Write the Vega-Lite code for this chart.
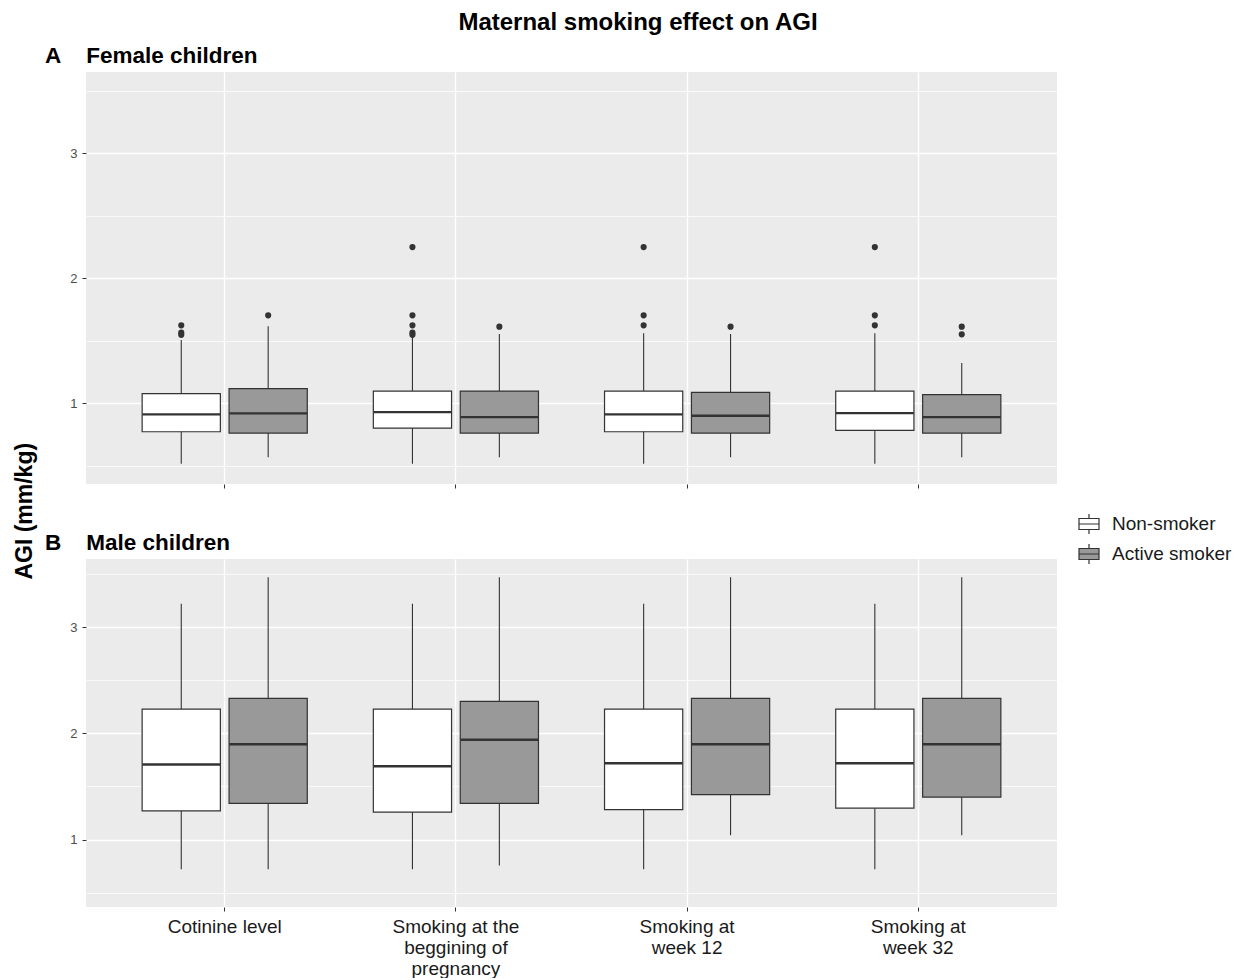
{
  "$schema": "https://vega.github.io/schema/vega-lite/v6.json",
  "background": "white",
  "padding": {"left": 14, "top": 10, "right": 0, "bottom": 0},
  "config": {
    "font": "Liberation Sans",
    "view": {"fill": "#EBEBEB", "stroke": null},
    "axis": {"domain": false, "tickColor": "#333333", "tickSize": 4, "tickWidth": 1, "gridColor": "#FFFFFF", "labelColor": "#4D4D4D", "labelFont": "Liberation Sans"},
    "title": {"font": "Liberation Sans", "color": "#000000"},
    "concat": {"spacing": 42}
  },
  "datasets": {
    "boxes": [
      {"sex": "Female", "exposure": "Cotinine level", "group": "Non-smoker", "lower": 0.517, "q1": 0.773, "median": 0.912, "q3": 1.077, "upper": 1.506},
      {"sex": "Female", "exposure": "Cotinine level", "group": "Active smoker", "lower": 0.568, "q1": 0.762, "median": 0.92, "q3": 1.117, "upper": 1.616},
      {"sex": "Female", "exposure": "Smoking at the beggining of pregnancy", "group": "Non-smoker", "lower": 0.517, "q1": 0.802, "median": 0.93, "q3": 1.098, "upper": 1.533},
      {"sex": "Female", "exposure": "Smoking at the beggining of pregnancy", "group": "Active smoker", "lower": 0.568, "q1": 0.762, "median": 0.89, "q3": 1.098, "upper": 1.554},
      {"sex": "Female", "exposure": "Smoking at week 12", "group": "Non-smoker", "lower": 0.517, "q1": 0.773, "median": 0.912, "q3": 1.098, "upper": 1.56},
      {"sex": "Female", "exposure": "Smoking at week 12", "group": "Active smoker", "lower": 0.568, "q1": 0.762, "median": 0.901, "q3": 1.088, "upper": 1.554},
      {"sex": "Female", "exposure": "Smoking at week 32", "group": "Non-smoker", "lower": 0.517, "q1": 0.784, "median": 0.922, "q3": 1.098, "upper": 1.56},
      {"sex": "Female", "exposure": "Smoking at week 32", "group": "Active smoker", "lower": 0.568, "q1": 0.762, "median": 0.89, "q3": 1.069, "upper": 1.322},
      {"sex": "Male", "exposure": "Cotinine level", "group": "Non-smoker", "lower": 0.72, "q1": 1.27, "median": 1.706, "q3": 2.228, "upper": 3.218},
      {"sex": "Male", "exposure": "Cotinine level", "group": "Active smoker", "lower": 0.72, "q1": 1.34, "median": 1.897, "q3": 2.329, "upper": 3.468},
      {"sex": "Male", "exposure": "Smoking at the beggining of pregnancy", "group": "Non-smoker", "lower": 0.72, "q1": 1.258, "median": 1.69, "q3": 2.228, "upper": 3.218},
      {"sex": "Male", "exposure": "Smoking at the beggining of pregnancy", "group": "Active smoker", "lower": 0.757, "q1": 1.34, "median": 1.94, "q3": 2.3, "upper": 3.468},
      {"sex": "Male", "exposure": "Smoking at week 12", "group": "Non-smoker", "lower": 0.72, "q1": 1.283, "median": 1.718, "q3": 2.228, "upper": 3.218},
      {"sex": "Male", "exposure": "Smoking at week 12", "group": "Active smoker", "lower": 1.04, "q1": 1.424, "median": 1.897, "q3": 2.329, "upper": 3.468},
      {"sex": "Male", "exposure": "Smoking at week 32", "group": "Non-smoker", "lower": 0.72, "q1": 1.296, "median": 1.718, "q3": 2.228, "upper": 3.218},
      {"sex": "Male", "exposure": "Smoking at week 32", "group": "Active smoker", "lower": 1.04, "q1": 1.4, "median": 1.897, "q3": 2.329, "upper": 3.468}
    ],
    "outliers": [
      {"sex": "Female", "exposure": "Cotinine level", "group": "Non-smoker", "value": 1.624},
      {"sex": "Female", "exposure": "Cotinine level", "group": "Non-smoker", "value": 1.565},
      {"sex": "Female", "exposure": "Cotinine level", "group": "Non-smoker", "value": 1.548},
      {"sex": "Female", "exposure": "Cotinine level", "group": "Active smoker", "value": 1.704},
      {"sex": "Female", "exposure": "Smoking at the beggining of pregnancy", "group": "Non-smoker", "value": 2.25},
      {"sex": "Female", "exposure": "Smoking at the beggining of pregnancy", "group": "Non-smoker", "value": 1.704},
      {"sex": "Female", "exposure": "Smoking at the beggining of pregnancy", "group": "Non-smoker", "value": 1.624},
      {"sex": "Female", "exposure": "Smoking at the beggining of pregnancy", "group": "Non-smoker", "value": 1.565},
      {"sex": "Female", "exposure": "Smoking at the beggining of pregnancy", "group": "Non-smoker", "value": 1.548},
      {"sex": "Female", "exposure": "Smoking at the beggining of pregnancy", "group": "Active smoker", "value": 1.613},
      {"sex": "Female", "exposure": "Smoking at week 12", "group": "Non-smoker", "value": 2.25},
      {"sex": "Female", "exposure": "Smoking at week 12", "group": "Non-smoker", "value": 1.704},
      {"sex": "Female", "exposure": "Smoking at week 12", "group": "Non-smoker", "value": 1.624},
      {"sex": "Female", "exposure": "Smoking at week 12", "group": "Active smoker", "value": 1.613},
      {"sex": "Female", "exposure": "Smoking at week 32", "group": "Non-smoker", "value": 2.25},
      {"sex": "Female", "exposure": "Smoking at week 32", "group": "Non-smoker", "value": 1.704},
      {"sex": "Female", "exposure": "Smoking at week 32", "group": "Non-smoker", "value": 1.624},
      {"sex": "Female", "exposure": "Smoking at week 32", "group": "Active smoker", "value": 1.613},
      {"sex": "Female", "exposure": "Smoking at week 32", "group": "Active smoker", "value": 1.552}
    ]
  },
  "title": {"text": "Maternal smoking effect on AGI", "fontSize": 24, "fontWeight": "bold", "anchor": "middle", "offset": 10, "dx": 15},
  "vconcat": [
    {
      "title": {"text": "AGI (mm/kg)", "orient": "left", "fontSize": 23, "fontWeight": "bold", "anchor": "middle", "offset": 8},
      "spacing": 42,
      "vconcat": [
        {
          "width": 971,
          "height": 412,
          "title": {"text": "A\u00a0\u00a0\u00a0\u00a0Female children", "fontSize": 22.5, "fontWeight": "bold", "anchor": "start", "frame": "group", "dx": -41, "offset": 5},
          "transform": [{"filter": "datum.sex === 'Female'"}],
          "data": {"name": "boxes"},
          "encoding": {
            "x": {"field": "exposure", "type": "nominal", "sort": ["Cotinine level", "Smoking at the beggining of pregnancy", "Smoking at week 12", "Smoking at week 32"], "scale": {"paddingInner": 0, "paddingOuter": 0.1},
                  "axis": {"title": null, "labels": false, "grid": true, "gridWidth": 1.4, "tickSize": 4}},
            "xOffset": {"field": "group", "type": "nominal", "sort": ["Non-smoker", "Active smoker"], "scale": {"paddingInner": 0.1, "paddingOuter": 0.38}}
          },
          "layer": [
            {
              "mark": {"type": "rule", "color": "#333333", "strokeWidth": 1.1},
              "encoding": {
                "y": {"field": "lower", "type": "quantitative", "scale": {"domain": [0.355, 3.65], "nice": false, "zero": false},
                      "axis": {"title": null, "values": [0.5, 1, 1.5, 2, 2.5, 3, 3.5], "labelExpr": "datum.value % 1 === 0 ? format(datum.value, 'd') : ''",
                               "gridWidth": {"condition": {"test": "datum.value % 1 === 0", "value": 1.4}, "value": 0.7},
                               "tickOpacity": {"condition": {"test": "datum.value % 1 === 0", "value": 1}, "value": 0},
                               "labelFontSize": 13, "labelPadding": 5}},
                "y2": {"field": "upper"}
              }
            },
            {
              "mark": {"type": "bar", "stroke": "#333333", "strokeWidth": 1.2},
              "encoding": {
                "y": {"field": "q1", "type": "quantitative"},
                "y2": {"field": "q3"},
                "fill": {"field": "group", "type": "nominal", "scale": {"domain": ["Non-smoker", "Active smoker"], "range": ["#FFFFFF", "#999999"]}}
              }
            },
            {
              "mark": {"type": "tick", "color": "#333333", "thickness": 2.4, "size": 78, "opacity": 1},
              "encoding": {"y": {"field": "median", "type": "quantitative"}}
            },
            {
              "data": {"name": "outliers"},
              "transform": [{"filter": "datum.sex === 'Female'"}],
              "mark": {"type": "point", "filled": true, "color": "#333333", "size": 38, "opacity": 1},
              "encoding": {"y": {"field": "value", "type": "quantitative"}}
            }
          ]
        },
        {
          "width": 971,
          "height": 348,
          "title": {"text": "B\u00a0\u00a0\u00a0\u00a0Male children", "fontSize": 22.5, "fontWeight": "bold", "anchor": "start", "frame": "group", "dx": -41, "offset": 5},
          "transform": [{"filter": "datum.sex === 'Male'"}],
          "data": {"name": "boxes"},
          "encoding": {
            "x": {"field": "exposure", "type": "nominal", "sort": ["Cotinine level", "Smoking at the beggining of pregnancy", "Smoking at week 12", "Smoking at week 32"], "scale": {"paddingInner": 0, "paddingOuter": 0.1},
                  "axis": {"title": null, "labelAngle": 0, "grid": true, "gridWidth": 1.4, "tickSize": 4, "labelFontSize": 19, "labelColor": "#1A1A1A", "labelPadding": 6, "labelLineHeight": 21,
                           "labelExpr": "datum.value === 'Smoking at the beggining of pregnancy' ? ['Smoking at the', 'beggining of', 'pregnancy'] : datum.value === 'Smoking at week 12' ? ['Smoking at', 'week 12'] : datum.value === 'Smoking at week 32' ? ['Smoking at', 'week 32'] : datum.value"}},
            "xOffset": {"field": "group", "type": "nominal", "sort": ["Non-smoker", "Active smoker"], "scale": {"paddingInner": 0.1, "paddingOuter": 0.38}}
          },
          "layer": [
            {
              "mark": {"type": "rule", "color": "#333333", "strokeWidth": 1.1},
              "encoding": {
                "y": {"field": "lower", "type": "quantitative", "scale": {"domain": [0.366, 3.64], "nice": false, "zero": false},
                      "axis": {"title": null, "values": [0.5, 1, 1.5, 2, 2.5, 3, 3.5], "labelExpr": "datum.value % 1 === 0 ? format(datum.value, 'd') : ''",
                               "gridWidth": {"condition": {"test": "datum.value % 1 === 0", "value": 1.4}, "value": 0.7},
                               "tickOpacity": {"condition": {"test": "datum.value % 1 === 0", "value": 1}, "value": 0},
                               "labelFontSize": 13, "labelPadding": 5}},
                "y2": {"field": "upper"}
              }
            },
            {
              "mark": {"type": "bar", "stroke": "#333333", "strokeWidth": 1.2},
              "encoding": {
                "y": {"field": "q1", "type": "quantitative"},
                "y2": {"field": "q3"},
                "fill": {"field": "group", "type": "nominal", "scale": {"domain": ["Non-smoker", "Active smoker"], "range": ["#FFFFFF", "#999999"]},
                         "legend": {"title": null, "orient": "none", "legendX": 992, "legendY": 441, "labelFontSize": 19, "labelColor": "#1A1A1A", "rowPadding": 4,
                                    "symbolType": "M-1,-0.55H1V0.55H-1Z M-1,0H1 M0,-0.55V-1 M0,0.55V1", "symbolSize": 400, "symbolStrokeColor": "#333333", "symbolStrokeWidth": 1.2, "labelOffset": 12}}
              }
            },
            {
              "mark": {"type": "tick", "color": "#333333", "thickness": 2.4, "size": 78, "opacity": 1},
              "encoding": {"y": {"field": "median", "type": "quantitative"}}
            }
          ]
        }
      ]
    }
  ]
}
